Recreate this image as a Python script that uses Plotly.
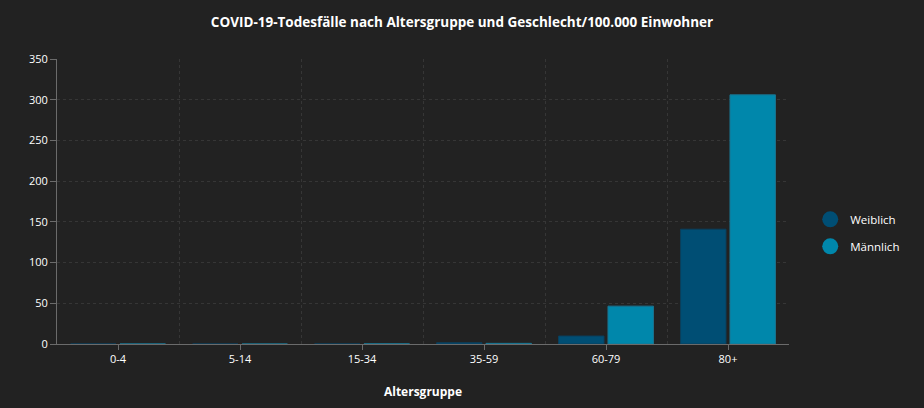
import plotly.graph_objects as go

categories = ["0-4", "5-14", "15-34", "35-59", "60-79", "80+"]
weiblich = [0.0, 0.0, 0.1, 1.5, 9.8, 141]
maennlich = [0.1, 0.0, 0.2, 0.8, 46.5, 306]
y_ticks = [0, 50, 100, 150, 200, 250, 300, 350]

x_pos = list(range(len(categories)))
col_w = "#004e74"
col_m = "#0087ab"

fig = go.Figure()
fig.add_trace(go.Bar(x=x_pos, y=weiblich, name="Weiblich", marker=dict(color=col_w, line=dict(color="#0b3f5c", width=1)), showlegend=False))
fig.add_trace(go.Bar(x=x_pos, y=maennlich, name="Männlich", marker=dict(color=col_m, line=dict(color="#1b7490", width=1)), showlegend=False))
fig.add_trace(go.Scatter(x=[None], y=[None], mode="markers", name="Weiblich", legendgroup="w", marker=dict(symbol="circle", size=16, color=col_w)))
fig.add_trace(go.Scatter(x=[None], y=[None], mode="markers", name="Männlich", legendgroup="m", marker=dict(symbol="circle", size=16, color=col_m)))

font_fam = "Open Sans, Noto Sans, sans-serif"
grid_col = "#363636"
fig.update_layout(
    width=924, height=408,
    paper_bgcolor="#222222", plot_bgcolor="#222222",
    margin=dict(l=57, r=135, t=59, b=64),
    barmode="group", bargap=0.19, bargroupgap=0.08,
    title=dict(text="<b>COVID-19-Todesfälle nach Altersgruppe und Geschlecht/100.000 Einwohner</b>",
               x=0.5, xanchor="center", y=0.945, yanchor="middle",
               font=dict(family=font_fam, size=13.5, color="#ffffff")),
    font=dict(family=font_fam, size=11, color="#ffffff"),
    legend=dict(x=1.029, xanchor="left", y=0.39, yanchor="middle", font=dict(size=11.5, color="#ffffff"),
                bgcolor="rgba(0,0,0,0)", tracegroupgap=8, itemsizing="trace", itemwidth=30),
    xaxis=dict(
        range=[-0.5, 5.5], tickmode="array", tickvals=x_pos, ticktext=categories,
        showgrid=False, zeroline=False, showline=True, linecolor="#6b6b6b", linewidth=1,
        ticks="outside", ticklen=5, tickcolor="#6b6b6b",
        tickfont=dict(size=11, color="#ffffff"),
        title=dict(text="<b>Altersgruppe</b>", font=dict(size=12, color="#ffffff"), standoff=22),
        minor=dict(tickvals=[0.5, 1.5, 2.5, 3.5, 4.5, 5.5], showgrid=True, gridcolor=grid_col,
                   griddash="3px,3px", gridwidth=1, ticks=""),
        fixedrange=True,
    ),
    yaxis=dict(
        range=[0, 350], tickmode="array", tickvals=y_ticks,
        showgrid=True, gridcolor=grid_col, griddash="3px,3px", gridwidth=1,
        zeroline=False, showline=True, linecolor="#6b6b6b", linewidth=1,
        ticks="outside", ticklen=6, tickcolor="#6b6b6b",
        tickfont=dict(size=11, color="#ffffff"),
    ),
)
fig.write_html("out.html", config={"displayModeBar": False},
               post_script="document.body.style.margin='0';document.body.style.background='#222222';")
